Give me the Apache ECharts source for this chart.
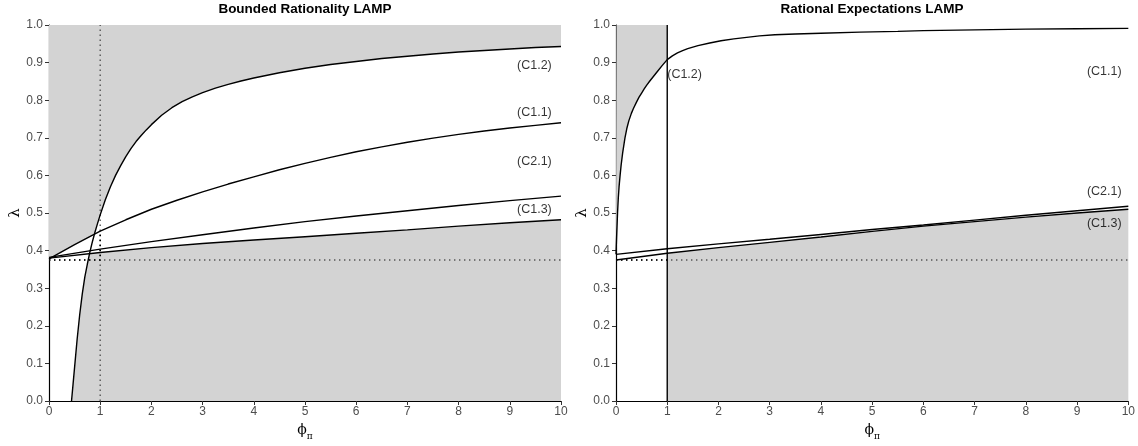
<!DOCTYPE html>
<html>
<head>
<meta charset="utf-8">
<script src="https://cdn.jsdelivr.net/npm/echarts@6/dist/echarts.min.js"></script>
<style>
html,body{margin:0;padding:0;background:#fff;}
#chart{width:1138px;height:446px;}
</style>
</head>
<body>
<div id="chart"></div>
<script>
// ---------- data ----------
const xTicks = [0,1,2,3,4,5,6,7,8,9,10];
const yTicks = [0,0.1,0.2,0.3,0.4,0.5,0.6,0.7,0.8,0.9,1.0];
const titles = ['Bounded Rationality LAMP', 'Rational Expectations LAMP'];
const lambdaRef = 0.375;

// Bounded Rationality panel
const brC12 = [[0.44,0],[0.47,0.045],[0.5,0.09],[0.55,0.165],[0.6,0.23],[0.65,0.285],[0.7,0.33],[0.75,0.365],[0.8,0.397],[0.85,0.425],[0.9,0.45],[0.95,0.473],[1.0,0.495],[1.1,0.535],[1.2,0.57],[1.3,0.6],[1.4,0.626],[1.5,0.65],[1.6,0.671],[1.7,0.69],[1.8,0.706],[1.9,0.721],[2.0,0.735],[2.2,0.76],[2.4,0.78],[2.6,0.796],[2.8,0.809],[3.0,0.82],[3.25,0.832],[3.5,0.842],[3.75,0.851],[4.0,0.859],[4.5,0.873],[5.0,0.885],[5.5,0.895],[6,0.903],[6.5,0.911],[7,0.917],[7.5,0.923],[8,0.928],[8.5,0.932],[9,0.936],[9.5,0.94],[10,0.943]];
const brC11 = [[0,0.378],[0.5,0.416],[1,0.452],[1.5,0.482],[2,0.51],[2.5,0.534],[3,0.556],[3.5,0.577],[4,0.596],[4.5,0.615],[5,0.632],[5.5,0.648],[6,0.663],[6.5,0.676],[7,0.688],[7.5,0.699],[8,0.709],[8.5,0.718],[9,0.726],[9.5,0.733],[10,0.74]];
const brC21 = [[0,0.382],[1,0.404],[2,0.424],[3,0.442],[4,0.46],[5,0.477],[6,0.492],[7,0.506],[8,0.52],[9,0.533],[10,0.545]];
const brC13 = [[0,0.38],[1,0.395],[2,0.408],[3,0.419],[4,0.428],[5,0.437],[6,0.446],[7,0.455],[8,0.465],[9,0.474],[10,0.482]];
const brLabels = [['(C1.2)',9.48,0.893],['(C1.1)',9.48,0.767],['(C2.1)',9.48,0.636],['(C1.3)',9.48,0.508]];

// Rational Expectations panel
const reC11 = [[0,0.39],[0.01,0.43],[0.02,0.465],[0.03,0.5],[0.045,0.54],[0.06,0.57],[0.08,0.6],[0.1,0.627],[0.13,0.66],[0.175,0.70],[0.21,0.724],[0.25,0.745],[0.3,0.765],[0.34,0.778],[0.4,0.795],[0.45,0.808],[0.5,0.819],[0.55,0.83],[0.6,0.84],[0.66,0.851],[0.73,0.863],[0.8,0.875],[0.9,0.892],[1.0,0.908],[1.1,0.918],[1.2,0.926],[1.3,0.932],[1.4,0.937],[1.6,0.945],[1.83,0.952],[2.05,0.958],[2.3,0.963],[2.55,0.967],[2.8,0.971],[3.1,0.974],[3.5,0.976],[4.0,0.978],[4.76,0.981],[5.5,0.983],[6,0.985],[7,0.987],[8,0.989],[9,0.99],[10,0.991]];
const reC21 = [[0,0.39],[1,0.405],[2,0.418],[3,0.43],[4,0.443],[5,0.456],[6,0.468],[7,0.481],[8,0.494],[9,0.506],[10,0.518]];
const reC13 = [[0,0.375],[1,0.393],[2,0.408],[3,0.422],[4,0.436],[5,0.451],[6,0.465],[7,0.477],[8,0.489],[9,0.5],[10,0.51]];
const reC12x = 1;
const reLabels = [['(C1.1)',9.53,0.875],['(C2.1)',9.53,0.558],['(C1.3)',9.53,0.472]];
const reC12Label = ['(C1.2)',1.0,0.868];

// ---------- helpers ----------
function interp(c, x){
  if (x < c[0][0] - 1e-9 || x > c[c.length-1][0] + 1e-9) return null;
  for (let i=0;i<c.length-1;i++){
    const a=c[i], b=c[i+1];
    if (x>=a[0]-1e-9 && x<=b[0]+1e-9){
      const t=(b[0]===a[0])?0:(x-a[0])/(b[0]-a[0]);
      return a[1]+t*(b[1]-a[1]);
    }
  }
  return c[c.length-1][1];
}
function envelope(a, b, pick, lo, hi){
  let xs = a.map(p=>p[0]).concat(b.map(p=>p[0])).filter(x=>x>=lo&&x<=hi);
  xs.push(lo, hi);
  xs = Array.from(new Set(xs.map(x=>+x.toFixed(6)))).sort((p,q)=>p-q);
  const out=[];
  const val = x => {
    const ya=interp(a,x), yb=interp(b,x);
    if (ya===null) return yb; if (yb===null) return ya;
    return pick(ya,yb);
  };
  for (let i=0;i<xs.length;i++){
    const x=xs[i];
    if (i>0){
      const x0=xs[i-1];
      const a0=interp(a,x0), b0=interp(b,x0), a1=interp(a,x), b1=interp(b,x);
      if (a0!==null&&b0!==null&&a1!==null&&b1!==null){
        const d0=a0-b0, d1=a1-b1;
        if (d0*d1<0){
          const t=d0/(d0-d1);
          out.push([x0+t*(x-x0), a0+t*(a1-a0)]);
        }
      }
    }
    const v=val(x);
    if (v!==null) out.push([x,v]);
  }
  return out;
}
function sub(c, lo, hi){
  const pts=c.filter(p=>p[0]>lo&&p[0]<hi);
  return [[lo,interp(c,lo)]].concat(pts,[[hi,interp(c,hi)]]);
}

const FILL='#d3d3d3';
const brUpper = envelope(brC11, brC12, Math.max, 0, 10);
const brLower = envelope(brC12, brC13, Math.min, brC12[0][0], 10);
const reUpper = sub(reC11, 0, reC12x);
const reLower = sub(reC13, reC12x, 10);

function areaSeries(idx, data, origin){
  return {type:'line', xAxisIndex:idx, yAxisIndex:idx, data:data, showSymbol:false, symbol:'none',
    lineStyle:{width:0, opacity:0}, areaStyle:{color:FILL, opacity:1, origin:origin}, z:1, silent:true, animation:false};
}
function curve(idx, data, w){
  return {type:'line', xAxisIndex:idx, yAxisIndex:idx, data:data, showSymbol:false, symbol:'none',
    lineStyle:{color:'#000', width:w||1.4}, z:5, silent:true, animation:false};
}
function dotted(idx, data, color, w){
  return {type:'line', xAxisIndex:idx, yAxisIndex:idx, data:data, showSymbol:false, symbol:'none',
    lineStyle:{color:color, width:w||1.4, type:[1.4,3.6], cap:'butt'}, z:3, silent:true, animation:false};
}
function labels(idx, items, align){
  return {type:'scatter', xAxisIndex:idx, yAxisIndex:idx, symbolSize:0, z:6, silent:true, animation:false,
    data: items.map(l=>({value:[l[1],l[2]], name:l[0]})),
    label:{show:true, position:'inside', formatter:p=>p.name, color:'#000', fontSize:12.5,
      fontFamily:'Liberation Sans, Arial, sans-serif', align:align||'center', verticalAlign:'middle'}};
}

const axisFont = 'Liberation Sans, Arial, sans-serif';
function xAxis(gi){
  return {type:'value', gridIndex:gi, min:0, max:10, interval:1,
    name:'{p|ϕ}{s|π}', nameLocation:'middle', nameGap:21,
    nameTextStyle:{rich:{p:{fontSize:14, color:'#000', fontFamily:'DejaVu Serif, serif', lineHeight:16},
      s:{fontSize:9, color:'#000', fontFamily:'DejaVu Serif, serif', lineHeight:16, verticalAlign:'bottom', padding:[0,0,-3,0]}}},
    axisLine:{lineStyle:{color:'#000', width:1.2}}, axisTick:{length:4, lineStyle:{color:'#333'}},
    axisLabel:{color:'#4d4d4d', fontSize:12, fontFamily:axisFont, margin:5, formatter:v=>String(v)},
    splitLine:{show:false}};
}
function yAxis(gi){
  return {type:'value', gridIndex:gi, min:0, max:1, interval:0.1,
    name:'λ', nameLocation:'middle', nameGap:26, nameRotate:90,
    nameTextStyle:{fontSize:15, color:'#000', fontFamily:'DejaVu Serif, serif'},
    axisLine:{show:true, lineStyle:{color:'#000', width:1.2}}, axisTick:{show:true, length:4, lineStyle:{color:'#333'}},
    axisLabel:{color:'#4d4d4d', fontSize:12, fontFamily:axisFont, margin:6, formatter:v=>v.toFixed(1)},
    splitLine:{show:false}};
}

const option = {
  backgroundColor:'#fff',
  animation:false,
  title:[
    {text:titles[0], left:305, top:2, padding:0, textAlign:'center', textStyle:{fontSize:13.5, fontWeight:'bold', color:'#000', fontFamily:axisFont}},
    {text:titles[1], left:872, top:2, padding:0, textAlign:'center', textStyle:{fontSize:13.5, fontWeight:'bold', color:'#000', fontFamily:axisFont}}
  ],
  grid:[
    {left:49, right:577, top:25, bottom:40},
    {left:616, right:9, top:25, bottom:40}
  ],
  xAxis:[xAxis(0), xAxis(1)],
  yAxis:[yAxis(0), yAxis(1)],
  series:[
    areaSeries(0, brUpper, 'end'),
    areaSeries(0, brLower, 'start'),
    areaSeries(1, reUpper, 'end'),
    areaSeries(1, reLower, 'start'),
    dotted(0, [[0,lambdaRef],[10,lambdaRef]], '#555'),
    dotted(0, [[1,0],[1,1]], '#555'),
    dotted(0, [[0,lambdaRef],[1,lambdaRef],[1,interp(brC11,1)]], '#000', 1.6),
    dotted(1, [[0,lambdaRef],[10,lambdaRef]], '#555'),
    dotted(1, [[0,lambdaRef],[1,lambdaRef]], '#000', 1.6),
    curve(0, brC12), curve(0, brC11), curve(0, brC21), curve(0, brC13),
    curve(1, reC11), curve(1, reC21), curve(1, reC13),
    curve(1, [[reC12x,0],[reC12x,1]]),
    labels(0, brLabels),
    labels(1, reLabels),
    labels(1, [reC12Label], 'left')
  ]
};
const chart = echarts.init(document.getElementById('chart'), null, {renderer:'canvas'});
chart.setOption(option);
</script>
</body>
</html>
